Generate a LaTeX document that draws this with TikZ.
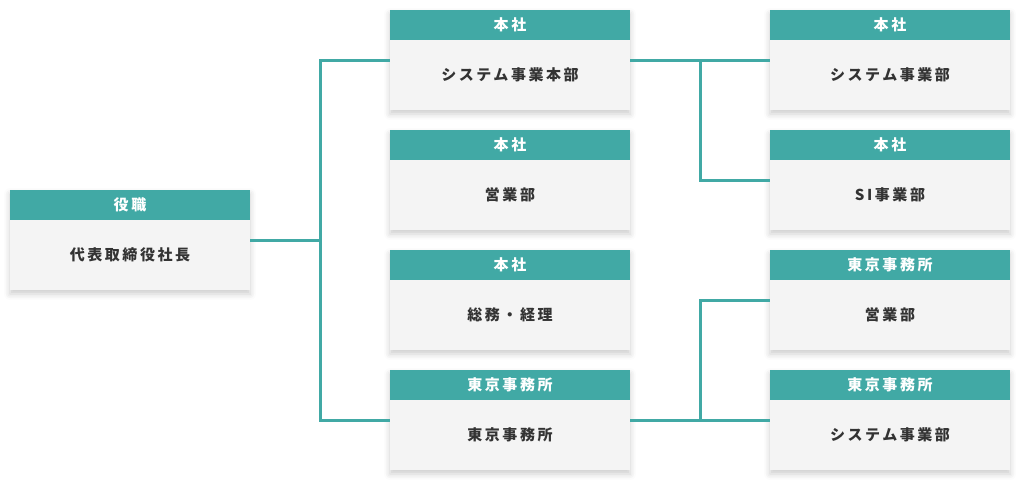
\documentclass[tikz,border=0pt]{standalone}
\usepackage{fontspec}
\newfontfamily\jpfont[LetterSpace=17]{Noto Sans CJK JP}
\usetikzlibrary{shadows.blur}
\definecolor{orgteal}{HTML}{41A9A5}
\definecolor{cardgray}{HTML}{F4F4F4}
\definecolor{ink}{HTML}{333333}
\begin{document}
\begin{tikzpicture}[x=1pt,y=-1pt,
    card/.style={fill=cardgray, minimum width=240pt, minimum height=100pt,
        inner sep=0pt, text height=41pt, text depth=0pt, text=ink,
        font=\jpfont\bfseries\fontsize{15pt}{15pt}\selectfont,
        blur shadow={shadow xshift=0pt, shadow yshift=-4pt,
            shadow blur radius=6pt, shadow opacity=20}},
    hdr/.style={anchor=north, fill=orgteal, minimum width=240pt,
        minimum height=30pt, inner sep=0pt, text=white,
        font=\jpfont\bfseries\fontsize{15pt}{15pt}\selectfont},
    wire/.style={draw=orgteal, line width=3pt}]
    \useasboundingbox (0,0) rectangle (1030,490);

    % left
    \node[card] (boss) at (130,240) {代表取締役社長};
    \node[hdr] (bossh) at (boss.north) {役職};

    % middle column
    \node[card] (sys) at (510,60) {システム事業本部};
    \node[hdr] (sysh) at (sys.north) {本社};
    \node[card] (eigyo) at (510,180) {営業部};
    \node[hdr] (eigyoh) at (eigyo.north) {本社};
    \node[card] (somu) at (510,300) {総務・経理};
    \node[hdr] (somuh) at (somu.north) {本社};
    \node[card] (tokyo) at (510,420) {東京事務所};
    \node[hdr] (tokyoh) at (tokyo.north) {東京事務所};

    % right column
    \node[card] (sysdiv) at (890,60) {システム事業部};
    \node[hdr] (sysdivh) at (sysdiv.north) {本社};
    \node[card] (si) at (890,180) {SI事業部};
    \node[hdr] (sih) at (si.north) {本社};
    \node[card] (tkeigyo) at (890,300) {営業部};
    \node[hdr] (tkeigyoh) at (tkeigyo.north) {東京事務所};
    \node[card] (tksys) at (890,420) {システム事業部};
    \node[hdr] (tksysh) at (tksys.north) {東京事務所};

    % connectors
    \coordinate (j1) at (320,240);
    \coordinate (j2) at (700,60);
    \coordinate (j3) at (700,420);
    \draw[wire] (boss.east) -- (j1);
    \draw[wire] (sys.west) -| (j1) |- (tokyo.west);
    \draw[wire] (sys.east) -- (sysdiv.west);
    \draw[wire] (j2) |- (si.west);
    \draw[wire] (tokyo.east) -- (tksys.west);
    \draw[wire] (j3) |- (tkeigyo.west);
\end{tikzpicture}
\end{document}
